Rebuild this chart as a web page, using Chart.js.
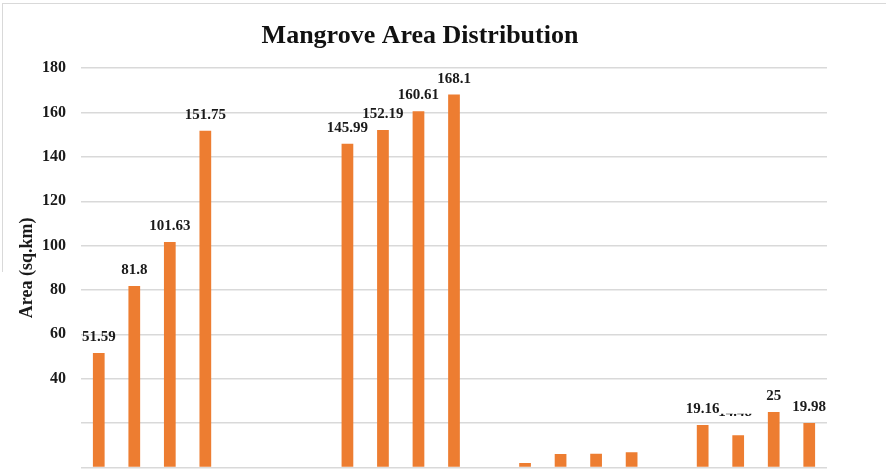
<!DOCTYPE html>
<html lang="en">
<head>
    <meta charset="UTF-8">
    <title>Mangrove Area Distribution</title>
    <style>
        html, body {
            margin: 0;
            padding: 0;
            background: #ffffff;
            overflow: hidden;
        }
        .frame {
            position: relative;
            width: 886px;
            height: 469px;
            overflow: hidden;
        }
        /* chart box border, partly cropped like the reference */
        .edge-top {
            position: absolute;
            left: 3px; top: 3px;
            width: 883px; height: 0;
            border-top: 1.5px solid #d9d9d9;
        }
        .edge-left {
            position: absolute;
            left: 2px; top: 3px;
            width: 0; height: 269px;
            border-left: 1.5px solid #d9d9d9;
        }
        /* the reference is cut off just below the zero line, so the chart runs past the frame */
        .chart-box {
            position: absolute;
            left: 0; top: 0;
            width: 886px;
            height: 492px;
        }
    </style>
</head>
<body>
    <div class="frame">
        <div class="edge-top"></div>
        <div class="edge-left"></div>
        <div class="chart-box"><canvas id="chart"></canvas></div>
    </div>

    <script src="https://cdn.jsdelivr.net/npm/chart.js"></script>
    <script>
        // category axis labels are cropped out of the reference, so keep them plain
        const categories = ['1', '2', '3', '4', '5', '6', '7', '8', '9', '10', '11',
                            '12', '13', '14', '15', '16', '17', '18', '19', '20', '21'];
        const areaValues = [51.59, 81.8, 101.63, 151.75, null, null, null,
                            145.99, 152.19, 160.61, 168.1, null,
                            2.0, 6.0, 6.2, 6.8, null,
                            19.16, 14.48, 25, 19.98];
        // which bars carry a value label (small ones have none); 'clipped' = only its foot shows
        const labelMode = ['full', 'full', 'full', 'full', 'none', 'none', 'none',
                           'full', 'full', 'full', 'full', 'none',
                           'none', 'none', 'none', 'none', 'none',
                           'full', 'clipped', 'full', 'full'];
        const yTickLabels = { 0: '', 20: '', 40: '40', 60: '60', 80: '80', 100: '100',
                              120: '120', 140: '140', 160: '160', 180: '180' };

        const serif = '"Liberation Serif", "Times New Roman", serif';

        const valueLabels = {
            id: 'valueLabels',
            afterDatasetsDraw(chart) {
                const ctx = chart.ctx;
                const meta = chart.getDatasetMeta(0);
                ctx.save();
                ctx.font = 'bold 15px ' + serif;
                ctx.fillStyle = '#1a1a1a';
                ctx.textAlign = 'center';
                ctx.textBaseline = 'alphabetic';
                meta.data.forEach((bar, i) => {
                    const v = areaValues[i];
                    if (v === null || labelMode[i] === 'none') return;
                    if (labelMode[i] === 'clipped') {
                        ctx.save();
                        ctx.beginPath();
                        ctx.rect(bar.x - 30, bar.y - 21.5, 60, 10);
                        ctx.clip();
                        ctx.fillText(String(v), bar.x - 3, bar.y - 19);
                        ctx.restore();
                        return;
                    }
                    ctx.fillText(String(v), bar.x, bar.y - 12);
                });
                ctx.restore();
            }
        };

        const ctx = document.getElementById('chart').getContext('2d');
        new Chart(ctx, {
            type: 'bar',
            data: {
                labels: categories,
                datasets: [{
                    label: 'Area (sq.km)',
                    data: areaValues,
                    backgroundColor: '#ED7D31',
                    borderWidth: 0,
                    barPercentage: 0.33,
                    categoryPercentage: 1.0
                }]
            },
            options: {
                responsive: true,
                maintainAspectRatio: false,
                animation: false,
                layout: {
                    padding: { left: 13, right: 59, top: 0, bottom: 2 }
                },
                plugins: {
                    legend: { display: false },
                    tooltip: { enabled: false },
                    title: {
                        display: true,
                        text: 'Mangrove Area Distribution',
                        color: '#111111',
                        font: { family: serif, size: 26, weight: 'bold' },
                        padding: { top: 21, bottom: 16 }
                    }
                },
                scales: {
                    x: {
                        display: false
                    },
                    y: {
                        min: 0,
                        max: 180,
                        afterFit(scale) { scale.width = 68; },
                        ticks: {
                            stepSize: 20,
                            padding: 15,
                            color: '#1a1a1a',
                            font: { family: serif, size: 16, weight: 'bold' },
                            callback: (value) => yTickLabels[value] ?? ''
                        },
                        grid: {
                            color: '#d9d9d9',
                            lineWidth: 1.5,
                            drawTicks: false
                        },
                        border: { display: false },
                        title: {
                            display: true,
                            text: 'Area (sq.km)',
                            color: '#1a1a1a',
                            font: { family: serif, size: 18, weight: 'bold' },
                            padding: { top: 4, bottom: 4 }
                        }
                    }
                }
            },
            plugins: [valueLabels]
        });
    </script>
</body>
</html>
